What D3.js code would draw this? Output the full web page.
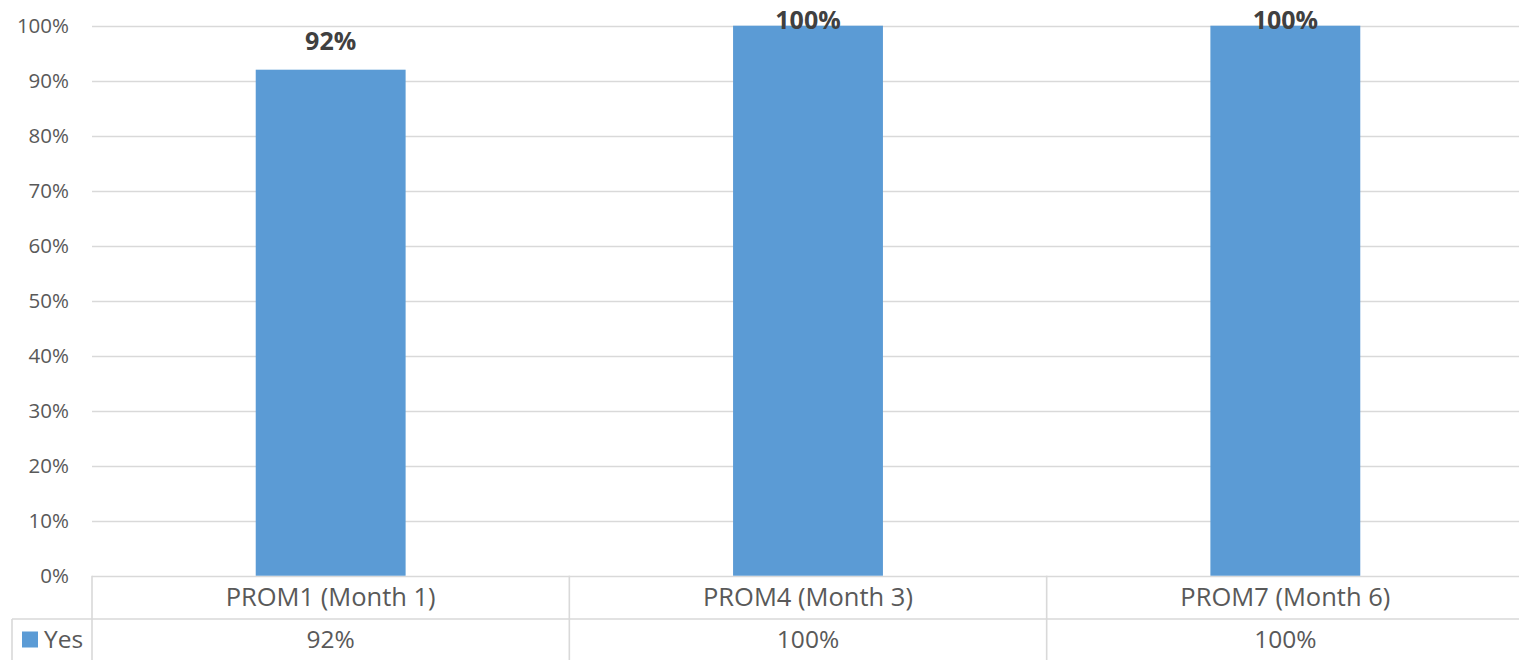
<!DOCTYPE html>
<html>
<head>
<meta charset="utf-8">
<script src="https://cdn.jsdelivr.net/npm/d3@7"></script>
<style>
  html, body { margin: 0; padding: 0; background: #fff; overflow: hidden; }
  svg { display: block; font-family: "Open Sans", "Noto Sans", sans-serif; }
</style>
</head>
<body>
<svg id="chart" width="1519" height="660"></svg>
<script>
// Share of respondents answering "Yes" at each PROM survey point
const categories = ["PROM1 (Month 1)", "PROM4 (Month 3)", "PROM7 (Month 6)"];
const seriesName = "Yes";
const yesValues = [0.92, 1.00, 1.00];
const yTicks = [0, 0.1, 0.2, 0.3, 0.4, 0.5, 0.6, 0.7, 0.8, 0.9, 1.0];

const svg = d3.select("#chart");

const plot = { left: 92, right: 1524, top: 25.7, bottom: 575.7 };
const table = { left: 12, rowDivider: 619, bottom: 660 };

const gridColor = "#d9d9d9";
const textColor = "#595959";
const barColor = "#5b9bd5";

const x = d3.scaleBand()
  .domain(categories)
  .range([plot.left, plot.right])
  .paddingInner(0)
  .paddingOuter(0);

const y = d3.scaleLinear()
  .domain([0, 1])
  .range([plot.bottom, plot.top]);

const pct = d3.format(".0%");

// Horizontal gridlines
svg.append("g")
  .selectAll("line")
  .data(yTicks)
  .join("line")
  .attr("x1", plot.left)
  .attr("x2", plot.right)
  .attr("y1", d => Math.round(y(d)) + 0.5)
  .attr("y2", d => Math.round(y(d)) + 0.5)
  .attr("stroke", gridColor)
  .attr("stroke-width", 1.6);

// Y axis tick labels
const yAxis = d3.axisLeft(y).tickValues(yTicks).tickFormat(pct).tickSize(0).tickPadding(0);
const yg = svg.append("g")
  .attr("transform", `translate(${plot.left - 23},0)`)
  .call(yAxis);
yg.select(".domain").remove();
yg.selectAll("text")
  .attr("fill", textColor)
  .style("font-size", "20.5px")
  .style("font-family", "'Open Sans', sans-serif");

// Bars
const barW = x.bandwidth() * 0.314;
svg.append("g")
  .selectAll("rect")
  .data(yesValues)
  .join("rect")
  .attr("x", (d, i) => x(categories[i]) + x.bandwidth() / 2 - barW / 2)
  .attr("width", barW)
  .attr("y", d => y(d))
  .attr("height", d => y(0) - y(d))
  .attr("fill", barColor);

// Value labels above bars (kept inside the chart's top edge)
svg.append("g")
  .selectAll("text")
  .data(yesValues)
  .join("text")
  .attr("x", (d, i) => x(categories[i]) + x.bandwidth() / 2)
  .attr("y", d => Math.max(y(d) - 20, 29))
  .attr("text-anchor", "middle")
  .attr("fill", "#404040")
  .style("font-size", "25px")
  .style("font-weight", "bold")
  .text(d => pct(d));

// Data table beneath the plot
const tg = svg.append("g").attr("stroke", gridColor).attr("stroke-width", 1.6);
// row divider between category row and value row
tg.append("line")
  .attr("x1", table.left).attr("x2", plot.right)
  .attr("y1", table.rowDivider).attr("y2", table.rowDivider);
// left border of the legend column
tg.append("line")
  .attr("x1", table.left).attr("x2", table.left)
  .attr("y1", table.rowDivider).attr("y2", table.bottom);
// column boundaries
const colEdges = categories.map(c => x(c));
tg.selectAll("line.col")
  .data(colEdges)
  .join("line")
  .attr("class", "col")
  .attr("x1", d => d).attr("x2", d => d)
  .attr("y1", y(0)).attr("y2", table.bottom);

// Category names
svg.append("g")
  .selectAll("text")
  .data(categories)
  .join("text")
  .attr("x", d => x(d) + x.bandwidth() / 2)
  .attr("y", (y(0) + table.rowDivider) / 2)
  .attr("dy", "0.35em")
  .attr("text-anchor", "middle")
  .attr("fill", textColor)
  .style("font-size", "25.5px")
  .text(d => d);

// Values row
svg.append("g")
  .selectAll("text")
  .data(yesValues)
  .join("text")
  .attr("x", (d, i) => x(categories[i]) + x.bandwidth() / 2)
  .attr("y", (table.rowDivider + table.bottom) / 2)
  .attr("dy", "0.35em")
  .attr("text-anchor", "middle")
  .attr("fill", textColor)
  .style("font-size", "24.5px")
  .text(d => pct(d));

// Legend key in the data table
const keyY = (table.rowDivider + table.bottom) / 2;
svg.append("rect")
  .attr("x", 22).attr("y", keyY - 8)
  .attr("width", 16).attr("height", 16)
  .attr("fill", barColor);
svg.append("text")
  .attr("x", 44).attr("y", keyY)
  .attr("dy", "0.35em")
  .attr("fill", textColor)
  .style("font-size", "24.5px")
  .text(seriesName);
</script>
</body>
</html>
